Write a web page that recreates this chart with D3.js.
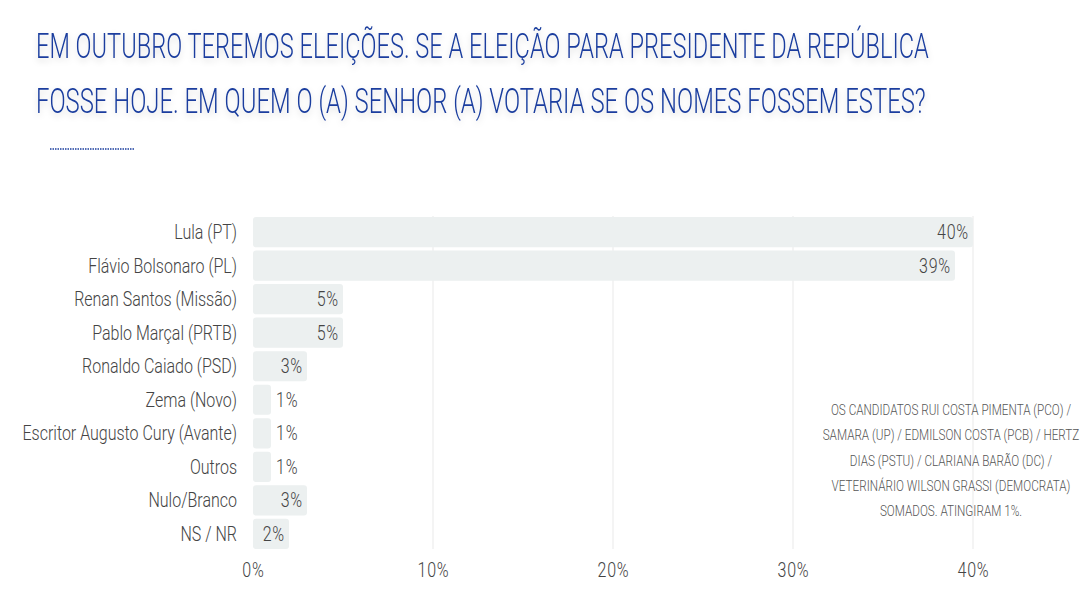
<!DOCTYPE html>
<html>
<head>
<meta charset="utf-8">
<script src="https://cdn.jsdelivr.net/npm/d3@7"></script>
<style>
  body { margin: 0; background: #fff; }
  svg { display: block; }
  text { font-family: Roboto, "DejaVu Sans", sans-serif; font-weight: 300; }
</style>
</head>
<body>
<svg id="chart" width="1083" height="591"></svg>
<script>
// dados da pesquisa
const candidates = ['Lula (PT)', 'Flávio Bolsonaro (PL)', 'Renan Santos (Missão)', 'Pablo Marçal (PRTB)',
  'Ronaldo Caiado (PSD)', 'Zema (Novo)', 'Escritor Augusto Cury (Avante)', 'Outros', 'Nulo/Branco', 'NS / NR'];
const votes = [40, 39, 5, 5, 3, 1, 1, 1, 3, 2];
const xTicks = [0, 10, 20, 30, 40];
const titleLines = [
  'EM OUTUBRO TEREMOS ELEIÇÕES. SE A ELEIÇÃO PARA PRESIDENTE DA REPÚBLICA',
  'FOSSE HOJE. EM QUEM O (A) SENHOR (A) VOTARIA SE OS NOMES FOSSEM ESTES?'
];
const noteLines = [
  'OS CANDIDATOS  RUI COSTA PIMENTA (PCO) /',
  'SAMARA  (UP) / EDMILSON COSTA (PCB) / HERTZ',
  'DIAS (PSTU)  / CLARIANA BARÃO (DC) /',
  'VETERINÁRIO WILSON GRASSI (DEMOCRATA)',
  'SOMADOS. ATINGIRAM 1%.'
];

const data = candidates.map((c, i) => ({name: c, value: votes[i]}));
const squeeze = 0.8; // fonte condensada

const svg = d3.select('#chart');

// sombra do titulo
const defs = svg.append('defs');
defs.append('filter').attr('id', 'shadow')
  .attr('x', '-5%').attr('y', '-30%').attr('width', '110%').attr('height', '180%')
  .append('feDropShadow')
  .attr('dx', 0).attr('dy', 3).attr('stdDeviation', 3)
  .attr('flood-color', '#000').attr('flood-opacity', 0.16);

const titleG = svg.append('g').attr('filter', 'url(#shadow)');
const titleW = [893, 890];
titleG.selectAll('text').data(titleLines).join('text')
  .style('font-size', '36px').style('fill', '#1a3d9e')
  .text(d => d)
  .attr('transform', function(d, i){
    const k = titleW[i] / this.getComputedTextLength();
    return `translate(36,${58 + i * 55}) scale(${k},1)`;
  });

svg.append('line')
  .attr('x1', 50).attr('x2', 135).attr('y1', 149).attr('y2', 149)
  .attr('stroke', '#1a3d9e').attr('stroke-width', 1.5).attr('stroke-dasharray', '1.5 1');

const x = d3.scaleLinear().domain([0, 40]).range([253, 973]);
const y = d3.scaleBand().domain(candidates).range([216, 550]).paddingInner(0.1).paddingOuter(0.03);

// grade
svg.append('g').selectAll('line').data(xTicks.slice(1)).join('line')
  .attr('x1', d => x(d)).attr('x2', d => x(d))
  .attr('y1', 216).attr('y2', 549)
  .attr('stroke', '#e9e9e9').attr('stroke-width', 1);

const xAxis = svg.append('g').attr('transform', 'translate(0,549)')
  .call(d3.axisBottom(x).tickValues(xTicks).tickFormat(d => d + '%').tickSize(0).tickPadding(14));
xAxis.select('.domain').remove();
xAxis.selectAll('text')
  .attr('transform', `scale(${squeeze},1)`)
  .style('font-size', '20px').style('fill', '#444')
  .style('font-family', 'Roboto, "DejaVu Sans", sans-serif').style('font-weight', 300)
  .style('letter-spacing', '1px');

// barras
svg.append('g').selectAll('rect').data(data).join('rect')
  .attr('x', x(0)).attr('y', d => y(d.name))
  .attr('width', d => x(d.value) - x(0)).attr('height', y.bandwidth())
  .attr('rx', 3).attr('fill', '#ecf0f0');

const midY = d => y(d.name) + y.bandwidth() / 2;

// nomes
svg.append('g').selectAll('text').data(data).join('text')
  .attr('transform', d => `translate(237,${midY(d)}) scale(${squeeze},1)`)
  .attr('dy', '0.35em').attr('text-anchor', 'end')
  .style('font-size', '20px').style('fill', '#444')
  .text(d => d.name);

// valores
svg.append('g').selectAll('text').data(data).join('text')
  .attr('transform', d => `translate(${d.value >= 2 ? x(d.value) - 4 : x(d.value) + 5},${midY(d)}) scale(${squeeze},1)`)
  .attr('dy', '0.35em').attr('text-anchor', d => d.value >= 2 ? 'end' : 'start')
  .style('font-size', '20px').style('fill', '#444').style('letter-spacing', '1px')
  .text(d => d.value + '%');

// nota
svg.append('g').selectAll('text').data(noteLines).join('text')
  .attr('transform', (d, i) => `translate(951,${415 + i * 25.3}) scale(0.78,1)`)
  .attr('text-anchor', 'middle')
  .style('font-size', '15px').style('fill', '#555')
  .text(d => d);
</script>
</body>
</html>
